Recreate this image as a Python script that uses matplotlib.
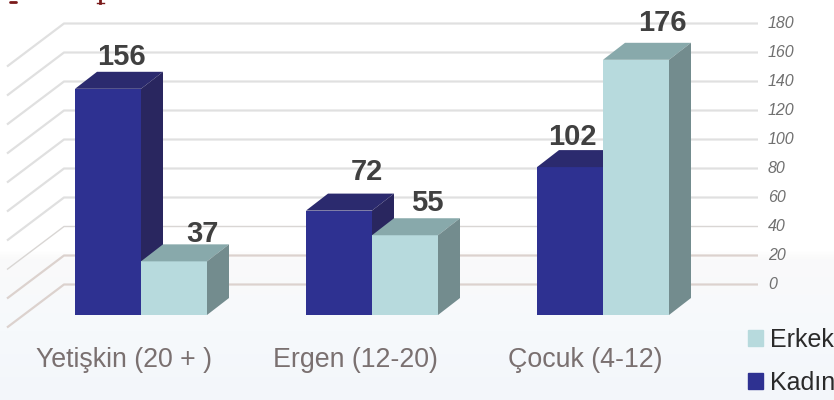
import numpy as np
import matplotlib
matplotlib.use("Agg")
import matplotlib.pyplot as plt
from matplotlib.patches import Polygon, Patch

categories = ["Yetişkin (20 + )", "Ergen (12-20)", "Çocuk (4-12)"]
kadin = [156, 72, 102]
erkek = [37, 55, 176]
yticks = [0, 20, 40, 60, 80, 100, 120, 140, 160, 180]
series_names = ["Erkek", "Kadın"]

plt.rcParams['font.family'] = ['Liberation Sans', 'DejaVu Sans']

W, H = 834, 400
PX_X = 231.0      # px per category
PX_Y = 1.45       # px per value
X0, Y0 = 141.0, 315.0
BW = 66 / PX_X
DX, DY = 22 / PX_X, 17 / PX_Y
WALL_DY = 30.5 / PX_Y
NAVY = ("#2E3191", "#2B2A6E", "#29265F")
TEAL = ("#B7DADD", "#88A9AB", "#738C8E")

fig = plt.figure(figsize=(W / 100, H / 100), dpi=100)
ax = fig.add_axes([0, 0, 1, 1])
ax.set_xlim(-X0 / PX_X, (W - X0) / PX_X)
ax.set_ylim((Y0 - H) / PX_Y, Y0 / PX_Y)
ax.axis("off")


def px_x(p):
    return (p - X0) / PX_X


def px_y(p):
    return (Y0 - p) / PX_Y


# background fade at the bottom
stops_y = [0, 250, 258, 330, 400]
stops_c = [(255, 255, 255), (255, 255, 255), (250, 250, 250), (246, 249, 252), (243, 246, 250)]
rows = np.arange(H)
grad = np.stack([np.interp(rows, stops_y, [c[i] for c in stops_c]) for i in range(3)], axis=1)
ax.imshow(grad[:, None, :] / 255, extent=[*ax.get_xlim(), *ax.get_ylim()], aspect="auto", zorder=0, origin="upper")

# illegible remains of a cropped heading at the very top of the picture
ax.plot([px_x(10), px_x(16)], [px_y(2), px_y(2)], color="#7A1A1A", lw=2, zorder=2, solid_capstyle="round")
ax.plot([px_x(97), px_x(104)], [px_y(3), px_y(3)], color="#7A1A1A", lw=1, zorder=2)
ax.plot([px_x(100), px_x(100)], [px_y(0), px_y(3)], color="#7A1A1A", lw=2, zorder=2)

# walls
xl_back, xl_front, xr = px_x(64), px_x(7), px_x(758)
wall_drop = 43 / PX_Y
for t in yticks:
    y = t + WALL_DY
    c = "#DCD2CE" if t <= 20 else ("#D9D6D4" if t == 40 else "#E0E0E0")
    lw = 1.6 if t != 40 else 1.0
    ax.plot([xl_front, xl_back, xr], [y - wall_drop, y, y], color=c, lw=lw, zorder=1, solid_capstyle="butt")
    ax.text(px_x(768), y, str(t), ha="left", va="center", style="italic",
            fontsize=11.5, color="#707070", zorder=2)


def bar3d(x, v, cols, z):
    ax.bar(x, v, width=BW, color=cols[0], zorder=z, linewidth=0)
    l, r = x - BW / 2, x + BW / 2
    ax.add_patch(Polygon([(l, v), (r, v), (r + DX, v + DY), (l + DX, v + DY)], fc=cols[1], ec="none", zorder=z))
    ax.add_patch(Polygon([(r, 0), (r + DX, DY), (r + DX, v + DY), (r, v)], fc=cols[2], ec="none", zorder=z))


for i, (k, e) in enumerate(zip(kadin, erkek)):
    bar3d(i - BW / 2, k, NAVY, 3 + i)
    bar3d(i + BW / 2, e, TEAL, 3.5 + i)

# value labels
label_dx = [13, 28, 28, 22, 2, 26]
label_dy = [15, 10, 22, 15, 13, 20]
vals = []
for i in range(3):
    vals += [(i - BW / 2, kadin[i]), (i + BW / 2, erkek[i])]
for (x, v), dx, dy in zip(vals, label_dx, label_dy):
    ax.text(x + dx / PX_X, v + DY + dy / PX_Y, str(v), ha="center", va="center", fontsize=21,
            fontweight="bold", color="#404040", zorder=10)

# category labels
label_px = [124, 355, 585]
for c, x in zip(categories, label_px):
    ax.text(px_x(x), px_y(360), c, ha="center", va="center", fontsize=19.3, color="#7A7070", zorder=10)

# legend
handles = [Patch(color=TEAL[0]), Patch(color=NAVY[0])]
ax.legend(handles, series_names, loc="upper left", bbox_to_anchor=(748 / W, 1 - 328 / H),
          frameon=False, fontsize=18, handlelength=0.6, handleheight=0.6, handletextpad=0.26,
          labelspacing=0.75, borderpad=0, borderaxespad=0, labelcolor="#2A2A2A")

fig.savefig("out.png", dpi=100)
